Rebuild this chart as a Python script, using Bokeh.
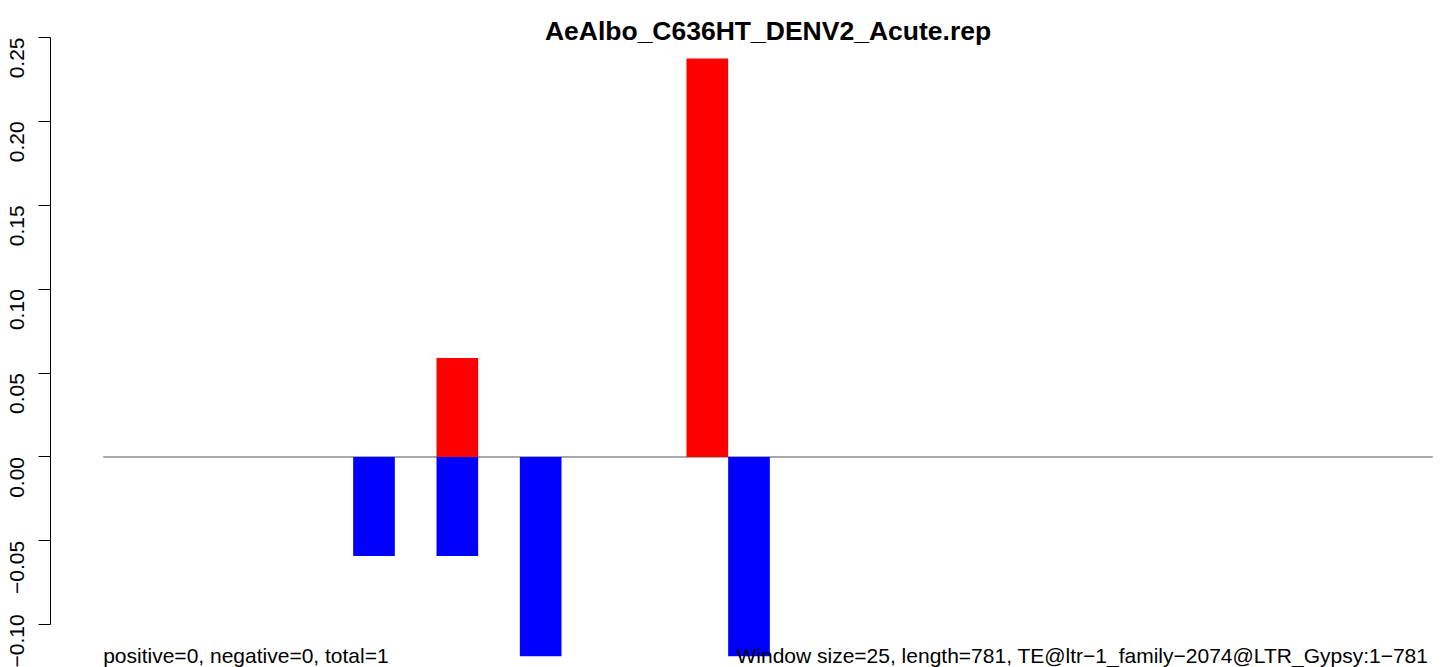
import math
from bokeh.plotting import figure
from bokeh.models import Range1d, FixedTicker, Label
from bokeh.embed import file_html
from bokeh.resources import INLINE

# ---- data ----
title_text = "AeAlbo_C636HT_DENV2_Acute.rep"
window = 25
seq_end = 797.8          # extent of the zero baseline (nt)
pos_starts = [200, 350]
pos_values = [0.059, 0.2375]
neg_starts = [150, 200, 250, 375]
neg_values = [-0.059, -0.059, -0.1187, -0.1187]
y_ticks = [-0.10, -0.05, 0.00, 0.05, 0.10, 0.15, 0.20, 0.25]
y_tick_labels = ["\u22120.10", "\u22120.05", "0.00", "0.05", "0.10", "0.15", "0.20", "0.25"]
left_note = "positive=0, negative=0, total=1"
right_note = "Window size=25, length=781, TE@ltr\u22121_family\u22122074@LTR_Gypsy:1\u2212781"

FONT = "Liberation Sans"

p = figure(width=1444, height=667, output_backend="svg", toolbar_location=None,
           x_range=Range1d(-31.6, 804.8), y_range=Range1d(-0.12545, 0.27205),
           min_border_left=50, min_border_right=0, min_border_top=0, min_border_bottom=0)
p.outline_line_color = None
p.xgrid.visible = False
p.ygrid.visible = False
p.xaxis.visible = False
p.background_fill_color = "white"
p.border_fill_color = "white"

ax = p.yaxis[0]
ax.ticker = FixedTicker(ticks=y_ticks)
ax.major_label_overrides = {t: l for t, l in zip(y_ticks, y_tick_labels)}
ax.bounds = (-0.10, 0.25)
ax.minor_tick_line_color = None
ax.major_tick_out = 12
ax.major_tick_in = 0
ax.axis_line_color = "black"
ax.axis_line_width = 1
ax.major_tick_line_color = "black"
ax.major_label_orientation = math.pi / 2
ax.major_label_text_font = FONT
ax.major_label_text_font_size = "21px"
ax.major_label_text_color = "black"
ax.major_label_standoff = 21

# zero baseline
p.segment(x0=[0], y0=[0], x1=[seq_end], y1=[0], line_color="#555555", line_width=1)

# bars
p.vbar(x=[s + window / 2 for s in pos_starts], top=pos_values, bottom=0, width=window,
       fill_color="#ff0000", line_color=None)
p.vbar(x=[s + window / 2 for s in neg_starts], top=0, bottom=neg_values, width=window,
       fill_color="#0000ff", line_color=None)

p.add_layout(Label(x=seq_end / 2, y=0.2536, text=title_text, text_align="center",
                   text_baseline="alphabetic", text_font=FONT, text_font_style="bold",
                   text_font_size="26.5px", text_color="black"))
p.add_layout(Label(x=0, y=-0.1183, text=left_note, text_align="left",
                   text_baseline="alphabetic", text_font=FONT,
                   text_font_size="21px", text_color="black"))
p.add_layout(Label(x=795.1, y=-0.1183, text=right_note, text_align="right",
                   text_baseline="alphabetic", text_font=FONT,
                   text_font_size="21px", text_color="black"))

open("out.html", "w").write(file_html(p, INLINE))
